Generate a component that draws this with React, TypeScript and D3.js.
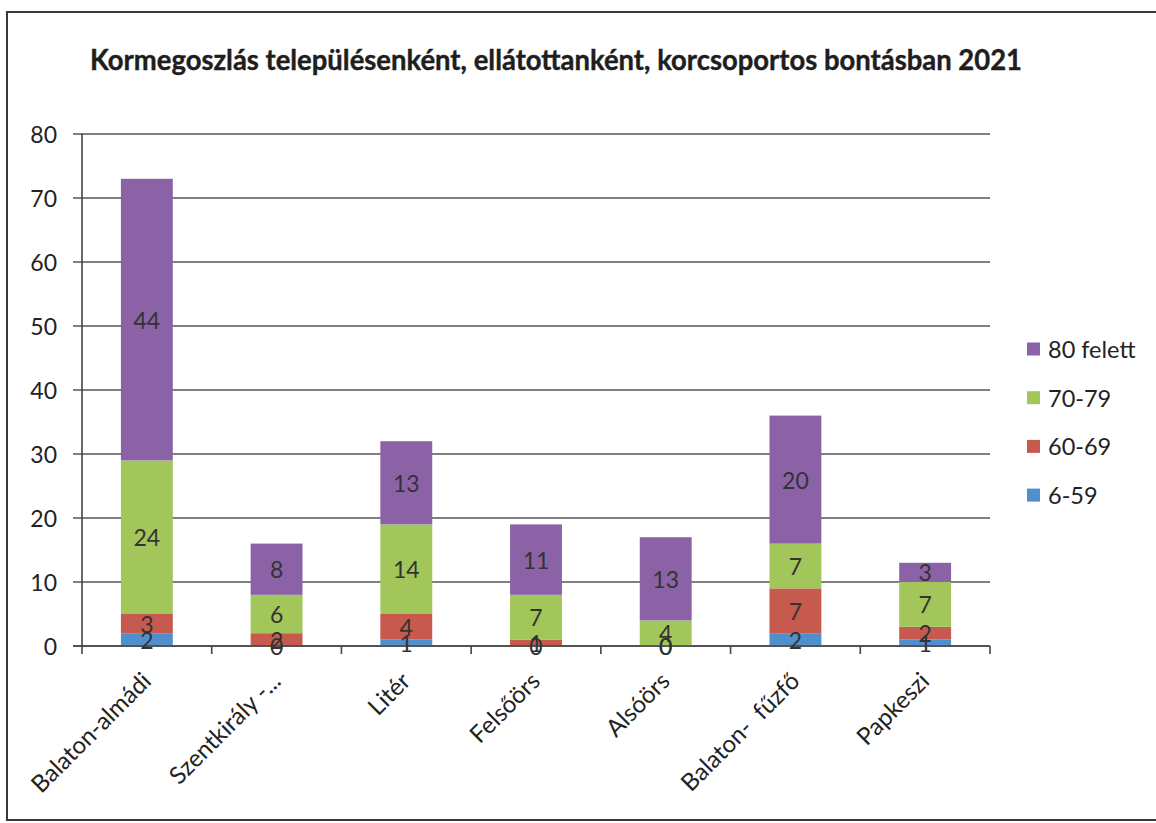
import React from "react";
import * as d3 from "d3";

const title = "Kormegoszlás településenként, ellátottanként, korcsoportos bontásban 2021";
const categories = ["Balaton-almádi", "Szentkirály -...", "Litér", "Felsőörs", "Alsóörs", "Balaton-  fűzfő", "Papkeszi"];
const seriesNames = ["6-59", "60-69", "70-79", "80 felett"];
const s6_59 = [2, 0, 1, 0, 0, 2, 1];
const s60_69 = [3, 2, 4, 1, 0, 7, 2];
const s70_79 = [24, 6, 14, 7, 4, 7, 7];
const s80 = [44, 8, 13, 11, 13, 20, 3];
const yTicks = [0, 10, 20, 30, 40, 50, 60, 70, 80];
const colors = ["#4f8fcb", "#c75a4f", "#a2c65a", "#8c62a7"];

const W = 1156;
const H = 823;
const FONT = "Lato, Carlito, 'Open Sans', sans-serif";

export default function App() {
  const seriesValues = [s6_59, s60_69, s70_79, s80];
  const rows = categories.map((c, i) => {
    const r: any = { cat: c };
    seriesNames.forEach((s, j) => (r[s] = seriesValues[j][i]));
    return r;
  });
  const stack = d3.stack().keys(seriesNames)(rows);

  const x = d3.scaleBand().domain(categories).range([82, 990]).paddingInner(0.6).paddingOuter(0.3);
  const y = d3.scaleLinear().domain([0, 80]).range([646, 134]);
  const step = x.step();
  const catTicks = d3.range(categories.length + 1).map((i) => 82 + i * step);

  return (
    <svg width={W} height={H} style={{ position: "absolute", left: 0, top: 0, background: "#fff" }} fontFamily={FONT}>
      <rect x={0} y={0} width={W} height={H} fill="#fff" />
      <rect x={7} y={12} width={W + 10} height={808} fill="none" stroke="#3a3a3a" strokeWidth={2} />
      <text x={90} y={70} fontSize={28} fontWeight="bold" fill="#1e1e1e" textLength={932} lengthAdjust="spacingAndGlyphs" stroke="#1e1e1e" strokeWidth={0.4}>
        {title}
      </text>

      {/* gridlines & y labels */}
      {yTicks.map((t) => (
        <g key={t}>
          <line x1={73} x2={990} y1={y(t)} y2={y(t)} stroke="#555" strokeWidth={1.4} />
          <text x={57} y={y(t)} textAnchor="end" dominantBaseline="central" fontSize={23} fill="#222">
            {t}
          </text>
        </g>
      ))}
      {/* y axis */}
      <line x1={82} x2={82} y1={y(80)} y2={y(0) + 1} stroke="#444" strokeWidth={1.6} />
      {/* x axis ticks */}
      {catTicks.map((t, i) => (
        <line key={i} x1={t} x2={t} y1={y(0)} y2={y(0) + 8} stroke="#444" strokeWidth={1.6} />
      ))}

      {/* bars */}
      {stack.map((layer, j) => (
        <g key={layer.key}>
          {layer.map((d, i) => (
            <rect
              key={i}
              x={x(categories[i])}
              y={y(d[1])}
              width={x.bandwidth()}
              height={Math.max(0, y(d[0]) - y(d[1]))}
              fill={colors[j]}
            />
          ))}
        </g>
      ))}
      <line x1={73} x2={990} y1={y(0)} y2={y(0)} stroke="#444" strokeWidth={1.6} />

      {/* data labels */}
      {stack.map((layer, j) => (
        <g key={"l" + layer.key}>
          {layer.map((d, i) => (
            <text
              key={i}
              x={(x(categories[i]) as number) + x.bandwidth() / 2}
              y={y((d[0] + d[1]) / 2)}
              textAnchor="middle"
              dominantBaseline="central"
              fontSize={23}
              fill="#333"
            >
              {d[1] - d[0]}
            </text>
          ))}
        </g>
      ))}

      {/* category labels */}
      {categories.map((c) => {
        const cx = (x(c) as number) + x.bandwidth() / 2;
        return (
          <text
            key={c}
            transform={`translate(${cx - 1},${676}) rotate(-45)`}
            textAnchor="end"
            dominantBaseline="central"
            fontSize={24}
            fill="#222"
            style={{ whiteSpace: "pre" }}
          >
            {c}
          </text>
        );
      })}

      {/* legend */}
      {seriesNames
        .slice()
        .reverse()
        .map((s, k) => {
          const j = seriesNames.length - 1 - k;
          const ly = 349 + k * 48.7;
          return (
            <g key={s}>
              <rect x={1027} y={ly - 6.5} width={13} height={13} fill={colors[j]} />
              <text x={1048} y={ly} dominantBaseline="central" fontSize={23.5} fill="#222">
                {s}
              </text>
            </g>
          );
        })}
    </svg>
  );
}
